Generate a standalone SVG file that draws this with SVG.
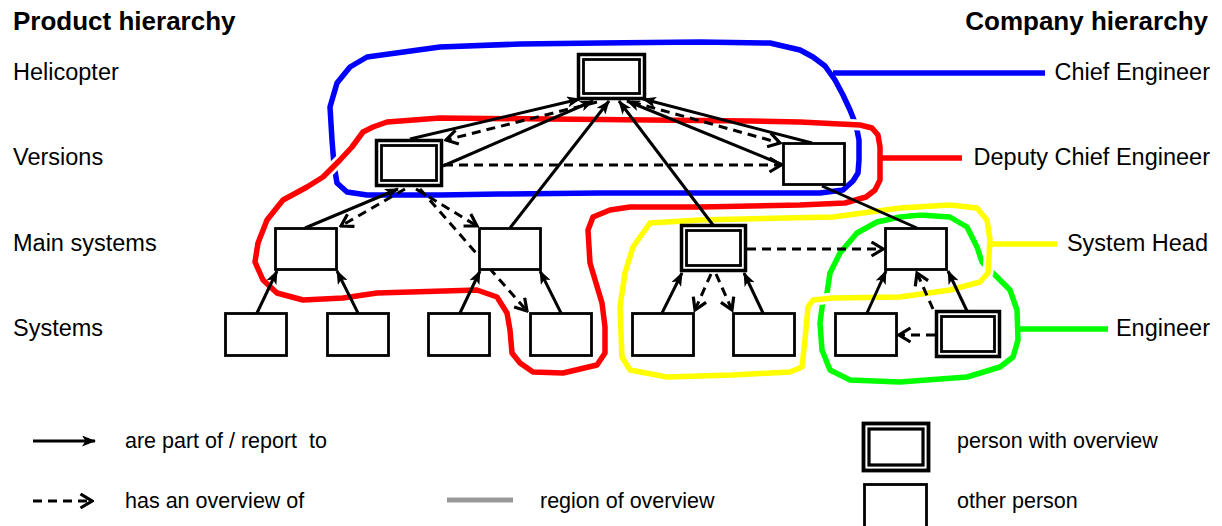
<svg xmlns="http://www.w3.org/2000/svg" width="1222" height="526" viewBox="0 0 1222 526">
<style>
.t{font-family:"Liberation Sans",Arial,sans-serif;font-size:23.5px;fill:#000}
.h{font-family:"Liberation Sans",Arial,sans-serif;font-size:26px;font-weight:bold;fill:#000}
.lg{font-family:"Liberation Sans",Arial,sans-serif;font-size:21.5px;fill:#000}
.blob{fill:none;stroke-width:5.5;stroke-linejoin:round;stroke-linecap:round}
.halo{fill:none;stroke:#fff;stroke-width:11;stroke-linejoin:round}
.box{fill:#fff;stroke:#000;stroke-width:2.8}
.bo{fill:#fff;stroke:#000;stroke-width:3.5}
.bi{fill:none;stroke:#000;stroke-width:2.8}
.s{stroke:#000;stroke-width:3;fill:none;marker-end:url(#ah)}
.sn{stroke:#000;stroke-width:3;fill:none}
.d{stroke:#000;stroke-width:3;fill:none;stroke-dasharray:9 6;marker-end:url(#oh)}
</style>
<defs>
<marker id="ah" viewBox="0 0 14 11" refX="13" refY="5.5" markerWidth="14" markerHeight="11" markerUnits="userSpaceOnUse" orient="auto"><path d="M0,0 L14,5.5 L0,11 L3.5,5.5 z" fill="#000"/></marker>
<marker id="oh" viewBox="0 0 15 17" refX="13" refY="8.5" markerWidth="15" markerHeight="17" markerUnits="userSpaceOnUse" orient="auto"><path d="M1.5,1.5 L13,8.5 L1.5,15.5" fill="none" stroke="#000" stroke-width="3.2"/></marker>
</defs>
<rect width="1222" height="526" fill="#fff"/>

<g id="regions">
<path id="region-blue" class="blob" stroke="#0000ff" d="M367,57 L440,47 L520,44 L600,43 L700,42 L770,43 L800,50 L813,57 L825,66 L835,80 L843,95 L850,110 L856,125 L859,140 L859,160 L858,173 L853,181 L843,190 L820,193 L700,193 L600,193 L500,194 L440,195 L367,195 L347,192 L337,183 L334,165 L332,140 L330,107 L337,83 L350,67 Z"/>
<path class="halo" d="M387,122 L440,118 L550,119 L650,120 L750,121 L800,122 L860,125 L872,128 L878,135 L880,147 L880,180 L875,190 L866,197 L845,203 L800,205 L700,207 L630,207 L610,210 L593,217 L588,230 L590,263 L602,303 L605,327 L605,353 L597,365 L563,373 L533,372 L520,363 L512,353 L510,330 L507,313 L497,297 L477,290 L377,293 L343,298 L303,300 L277,293 L263,280 L255,262 L258,243 L267,220 L283,200 L307,187 L323,177 L340,160 L352,147 L363,132 L373,127 Z"/>
<path id="region-red" class="blob" stroke="#ff0000" d="M387,122 L440,118 L550,119 L650,120 L750,121 L800,122 L860,125 L872,128 L878,135 L880,147 L880,180 L875,190 L866,197 L845,203 L800,205 L700,207 L630,207 L610,210 L593,217 L588,230 L590,263 L602,303 L605,327 L605,353 L597,365 L563,373 L533,372 L520,363 L512,353 L510,330 L507,313 L497,297 L477,290 L377,293 L343,298 L303,300 L277,293 L263,280 L255,262 L258,243 L267,220 L283,200 L307,187 L323,177 L340,160 L352,147 L363,132 L373,127 Z"/>
<path id="region-green" class="blob" stroke="#00ff00" d="M827,293 L830,273 L840,253 L857,233 L877,222 L900,217 L920,215 L950,217 L967,227 L977,247 L982,262 L997,277 L1010,290 L1017,310 L1018,340 L1013,357 L1000,367 L967,377 L900,382 L850,380 L830,370 L822,350 L820,323 L823,300 Z"/>
<path class="halo" d="M650,223 L700,220 L833,217 L900,208 L950,205 L977,208 L987,220 L990,240 L988,273 L980,282 L950,290 L900,297 L833,298 L813,300 L808,307 L805,340 L802,367 L790,372 L733,375 L667,377 L630,370 L622,357 L620,307 L625,273 L633,247 Z"/>
<path id="region-yellow" class="blob" stroke="#ffff00" d="M650,223 L700,220 L833,217 L900,208 L950,205 L977,208 L987,220 L990,240 L988,273 L980,282 L950,290 L900,297 L833,298 L813,300 L808,307 L805,340 L802,367 L790,372 L733,375 L667,377 L630,370 L622,357 L620,307 L625,273 L633,247 Z"/>
<line x1="833" y1="73" x2="1045" y2="73" stroke="#0000ff" stroke-width="5.5"/>
<line x1="878" y1="158" x2="962" y2="158" stroke="#ff0000" stroke-width="5.5"/>
<line x1="989" y1="244" x2="1057" y2="244" stroke="#ffff00" stroke-width="5.5"/>
<line x1="1016" y1="329" x2="1108" y2="329" stroke="#00ff00" stroke-width="5.5"/>
</g>

<g id="connectors">
<line class="s" x1="410" y1="139" x2="580" y2="99"/>
<line class="s" x1="443" y1="166" x2="593" y2="101"/>
<line class="s" x1="510" y1="228" x2="609" y2="101"/>
<line class="s" x1="713" y1="225" x2="619" y2="101"/>
<line class="s" x1="783" y1="165" x2="627" y2="101"/>
<line class="s" x1="812" y1="143" x2="643" y2="99"/>
<line class="s" x1="305" y1="228" x2="398" y2="189"/>
<line class="s" x1="257" y1="313" x2="277" y2="271"/>
<line class="s" x1="358" y1="313" x2="337" y2="271"/>
<line class="s" x1="460" y1="313" x2="480" y2="271"/>
<line class="s" x1="561" y1="313" x2="540" y2="271"/>
<line class="s" x1="662" y1="313" x2="682" y2="273"/>
<line class="s" x1="763" y1="313" x2="744" y2="273"/>
<line class="s" x1="867" y1="313" x2="886" y2="271"/>
<line class="s" x1="967" y1="311" x2="948" y2="271"/>
<line class="sn" x1="917" y1="228" x2="822" y2="186"/>
<line class="d" x1="597" y1="102" x2="446" y2="140"/>
<line class="d" x1="632" y1="102" x2="780" y2="143"/>
<line class="d" x1="444" y1="165" x2="781" y2="165"/>
<line class="d" x1="405" y1="189" x2="341" y2="226"/>
<line class="d" x1="416" y1="189" x2="477" y2="226"/>
<line class="d" x1="420" y1="189" x2="527" y2="311"/>
<line class="d" x1="711" y1="274" x2="695" y2="310"/>
<line class="d" x1="716" y1="274" x2="732" y2="310"/>
<line class="d" x1="747" y1="249" x2="883" y2="249"/>
<line class="d" x1="933" y1="309" x2="917" y2="273"/>
<line class="d" x1="935" y1="335" x2="899" y2="335"/>
</g>

<g id="n-helicopter"><rect class="bo" x="578.5" y="54.5" width="66" height="44"/><rect class="bi" x="583.5" y="59.5" width="56" height="34"/></g>
<g id="n-version-1"><rect class="bo" x="376.5" y="140.5" width="65" height="45"/><rect class="bi" x="381.5" y="145.5" width="55" height="35"/></g>
<g id="n-version-2"><rect class="box" x="783.5" y="143.5" width="61" height="41"/></g>
<g id="n-main-1"><rect class="box" x="275.5" y="228.5" width="61" height="41"/></g>
<g id="n-main-2"><rect class="box" x="479.5" y="228.5" width="61" height="41"/></g>
<g id="n-main-3"><rect class="bo" x="681.5" y="225.5" width="64" height="45"/><rect class="bi" x="686.5" y="230.5" width="54" height="35"/></g>
<g id="n-main-4"><rect class="box" x="885.5" y="228.5" width="61" height="41"/></g>
<g id="n-sys-1"><rect class="box" x="225.5" y="313.5" width="61" height="42"/></g>
<g id="n-sys-2"><rect class="box" x="327.5" y="313.5" width="61" height="42"/></g>
<g id="n-sys-3"><rect class="box" x="428.5" y="313.5" width="61" height="42"/></g>
<g id="n-sys-4"><rect class="box" x="530.5" y="313.5" width="61" height="42"/></g>
<g id="n-sys-5"><rect class="box" x="632.5" y="313.5" width="61" height="42"/></g>
<g id="n-sys-6"><rect class="box" x="733.5" y="313.5" width="61" height="42"/></g>
<g id="n-sys-7"><rect class="box" x="835.5" y="313.5" width="61" height="42"/></g>
<g id="n-sys-8"><rect class="bo" x="936.5" y="311.5" width="63" height="45"/><rect class="bi" x="941.5" y="316.5" width="53" height="35"/></g>

<g id="labels">
<text class="h" x="13" y="30">Product hierarchy</text>
<text class="h" x="1208" y="30" text-anchor="end">Company hierarchy</text>
<text class="t" x="13" y="80">Helicopter</text>
<text class="t" x="13" y="165">Versions</text>
<text class="t" x="13" y="251">Main systems</text>
<text class="t" x="13" y="336">Systems</text>
<text class="t" x="1210" y="80" text-anchor="end">Chief Engineer</text>
<text class="t" x="1210" y="165" text-anchor="end">Deputy Chief Engineer</text>
<text class="t" x="1208" y="251" text-anchor="end">System Head</text>
<text class="t" x="1210" y="336" text-anchor="end">Engineer</text>
</g>

<g id="legend">
<line class="s" x1="33" y1="441" x2="95" y2="441"/>
<text class="lg" x="125" y="448" xml:space="preserve">are part of / report  to</text>
<line class="d" x1="33" y1="501" x2="92" y2="501" stroke-dasharray="8 6"/>
<text class="lg" x="125" y="508">has an overview of</text>
<line x1="447" y1="500" x2="513" y2="500" stroke="#999" stroke-width="5"/>
<text class="lg" x="540" y="508">region of overview</text>
<g id="legend-overview"><rect x="863.5" y="423.5" width="65" height="47" fill="#fff" stroke="#000" stroke-width="3.8"/><rect x="869" y="429" width="54" height="36" fill="none" stroke="#000" stroke-width="3.2"/></g>
<text class="lg" x="957" y="448">person with overview</text>
<g id="legend-other"><rect class="box" x="864.5" y="484.5" width="62" height="50"/></g>
<text class="lg" x="957" y="508">other person</text>
</g>
</svg>
